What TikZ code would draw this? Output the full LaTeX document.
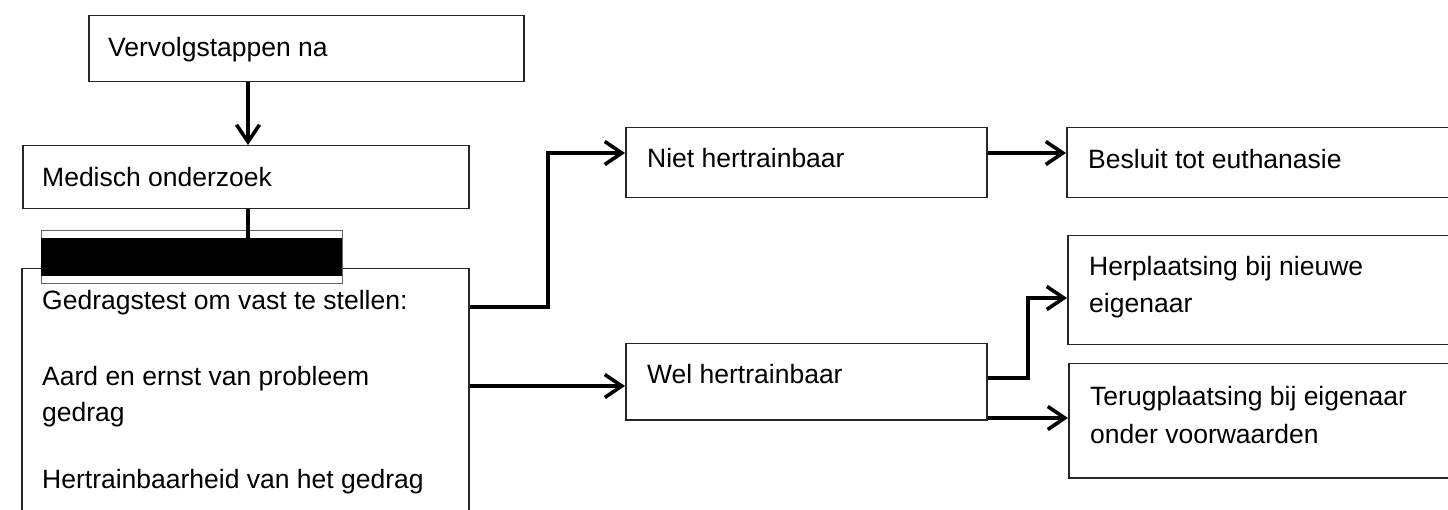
\documentclass[tikz,border=0pt]{standalone}
\usepackage{fontspec}
\setmainfont{Liberation Sans}
\usetikzlibrary{arrows.meta}
\begin{document}
\begin{tikzpicture}[x=1pt,y=-1pt,
  box/.style={draw=black!85, line width=1.5pt, fill=white, inner sep=0pt, anchor=north west},
  txt/.style={anchor=base west, inner sep=0pt, font=\fontsize{26.5}{32}\selectfont},
  conn/.style={line width=3.6pt, line join=miter},
  arr/.style={conn, -{Straight Barb[length=17pt,width=23pt,line width=3.6pt]}}]
\path[use as bounding box] (0,0) rectangle (1448,510);
\clip (0,0) rectangle (1448,510);
% boxes
\node[box, minimum width=435pt, minimum height=66pt] (vervolg) at (88,15) {};
\node[box, minimum width=446pt, minimum height=63pt] (medisch) at (22,145) {};
\node[box, minimum width=447pt, minimum height=280pt] (gedrag) at (21,268) {};
\node[box, draw=black!60, line width=1.2pt, minimum width=301pt, minimum height=53pt] (barframe) at (41,230) {};
\node[fill=black, inner sep=0pt, anchor=north west, minimum width=301pt, minimum height=38pt] (bar) at (41,238) {};
\node[box, minimum width=361pt, minimum height=70pt] (niet) at (625,127) {};
\node[box, minimum width=420pt, minimum height=70pt] (besluit) at (1066,127) {};
\node[box, minimum width=361pt, minimum height=76pt] (wel) at (625,343) {};
\node[box, minimum width=420pt, minimum height=109pt] (herpl) at (1067,235) {};
\node[box, minimum width=420pt, minimum height=114pt] (terug) at (1068,363) {};
% texts
\node[txt] (t1) at (108,57) {Vervolgstappen na};
\node[txt] (t2) at (42,187) {Medisch onderzoek};
\node[txt] (t3) at (42,310) {Gedragstest om vast te stellen:};
\node[txt] (t4) at (42,385) {Aard en ernst van probleem};
\node[txt] (t5) at (42,421) {gedrag};
\node[txt] (t6) at (42,488) {Hertrainbaarheid van het gedrag};
\node[txt] (t7) at (647,168) {Niet hertrainbaar};
\node[txt] (t8) at (1088,169) {Besluit tot euthanasie};
\node[txt] (t9) at (647,384) {Wel hertrainbaar};
\node[txt] (t10) at (1089,276) {Herplaatsing bij nieuwe};
\node[txt] (t11) at (1089,313) {eigenaar};
\node[txt] (t12) at (1090,406) {Terugplaatsing bij eigenaar};
\node[txt] (t13) at (1090,443) {onder voorwaarden};
% helper coordinates
\coordinate (cx) at (248,0);
\coordinate (y1) at (0,307);
\coordinate (y2) at (0,153);
\coordinate (y3) at (0,386);
\coordinate (y4) at (0,378);
\coordinate (y5) at (0,298);
\coordinate (y6) at (0,418);
\coordinate (k1) at (548,0);
\coordinate (k2) at (1028,0);
% connectors
\draw[arr] (cx |- vervolg.south) -- (cx |- medisch.north);
\draw[conn] (cx |- medisch.south) -- (cx |- bar.north);
\draw[arr] (gedrag.east |- y1) -- (k1 |- y1) -- (k1 |- y2) -- (niet.west |- y2);
\draw[arr] (gedrag.east |- y3) -- (wel.west |- y3);
\draw[arr] (niet.east |- y2) -- (besluit.west |- y2);
\draw[arr] (wel.east |- y4) -- (k2 |- y4) -- (k2 |- y5) -- (herpl.west |- y5);
\draw[arr] (wel.east |- y6) -- (terug.west |- y6);
\end{tikzpicture}
\end{document}
